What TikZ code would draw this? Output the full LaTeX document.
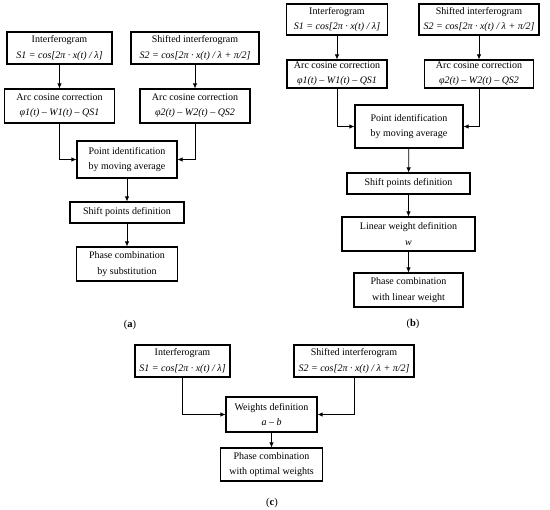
\documentclass[tikz,border=0pt]{standalone}
\usepackage{fontspec}
\setmainfont{Liberation Serif}
\usetikzlibrary{arrows.meta}
\begin{document}
\begin{tikzpicture}[x=1pt,y=-1pt,
  box/.style={draw,line width=1.1pt,inner sep=0pt,align=center,font=\fontsize{10}{15.5}\selectfont},
  arr/.style={line width=0.75pt,-{Latex[length=5pt,width=4.5pt]}},
  lab/.style={font=\fontsize{10.5}{12}\selectfont}]
\useasboundingbox (0,0) rectangle (550,510);
% (a)
\node[box,minimum width=105pt,minimum height=32pt] (a1) at (59.5,48) {Interferogram\\\textit{S1 = cos[2π · x(t) / λ]}};
\node[box,minimum width=128pt,minimum height=32pt] (a2) at (195,48) {Shifted interferogram\\\textit{S2 = cos[2π · x(t) / λ + π/2]}};
\node[box,minimum width=110pt,minimum height=34pt] (a3) at (59.5,106) {Arc cosine correction\\\textit{φ1(t) – W1(t) – QS1}};
\node[box,minimum width=110pt,minimum height=34pt] (a4) at (195,106) {Arc cosine correction\\\textit{φ2(t) – W2(t) – QS2}};
\node[box,minimum width=100pt,minimum height=37pt] (a5) at (127,159.5) {Point identification\\by moving average};
\node[box,minimum width=114pt,minimum height=21pt] (a6) at (127,212.5) {Shift points definition};
\node[box,minimum width=101pt,minimum height=34pt] (a7) at (127,264) {Phase combination\\by substitution};
\node[lab] (la) at (130,325) {(\textbf{a})};
\draw[arr] (a1) -- (a3);
\draw[arr] (a2) -- (a4);
\draw[arr] (a3) |- (a5);
\draw[arr] (a4) |- (a5);
\draw[arr] (a5) -- (a6);
\draw[arr] (a6) -- (a7);
% (b)
\node[box,minimum width=101pt,minimum height=31pt] (b1) at (337,19.5) {Interferogram\\\textit{S1 = cos[2π · x(t) / λ]}};
\node[box,minimum width=120pt,minimum height=31pt] (b2) at (479,19.5) {Shifted interferogram\\\textit{S2 = cos[2π · x(t) / λ + π/2]}};
\node[box,minimum width=100pt,minimum height=28pt] (b3) at (337,74) {Arc cosine correction\\\textit{φ1(t) – W1(t) – QS1}};
\node[box,minimum width=109pt,minimum height=28pt] (b4) at (479,74) {Arc cosine correction\\\textit{φ2(t) – W2(t) – QS2}};
\node[box,minimum width=108pt,minimum height=43pt] (b5) at (409,126.5) {Point identification\\by moving average};
\node[box,minimum width=123pt,minimum height=21pt] (b6) at (408.5,183.5) {Shift points definition};
\node[box,minimum width=133pt,minimum height=34pt] (b7) at (408.5,234) {Linear weight definition\\\textit{w}};
\node[box,minimum width=109pt,minimum height=34pt] (b8) at (408.5,290) {Phase combination\\with linear weight};
\node[lab] (lb) at (413,324) {(\textbf{b})};
\draw[arr] (b1) -- (b3);
\draw[arr] (b2) -- (b4);
\draw[arr] (b3) |- (b5);
\draw[arr] (b4) |- (b5);
\draw[arr] (b5) -- (b6);
\draw[arr] (b6) -- (b7);
\draw[arr] (b7) -- (b8);
% (c)
\node[box,minimum width=95pt,minimum height=32pt] (c1) at (182.5,361) {Interferogram\\\textit{S1 = cos[2π · x(t) / λ]}};
\node[box,minimum width=120pt,minimum height=32pt] (c2) at (354,361) {Shifted interferogram\\\textit{S2 = cos[2π · x(t) / λ + π/2]}};
\node[box,minimum width=91pt,minimum height=35pt] (c3) at (271.5,414.5) {Weights definition\\\textit{a – b}};
\node[box,minimum width=102pt,minimum height=33pt] (c4) at (271.5,464.5) {Phase combination\\with optimal weights};
\node[lab] (lc) at (272,503) {(\textbf{c})};
\draw[arr] (c1) |- (c3);
\draw[arr] (c2) |- (c3);
\draw[arr] (c3) -- (c4);
\end{tikzpicture}
\end{document}
